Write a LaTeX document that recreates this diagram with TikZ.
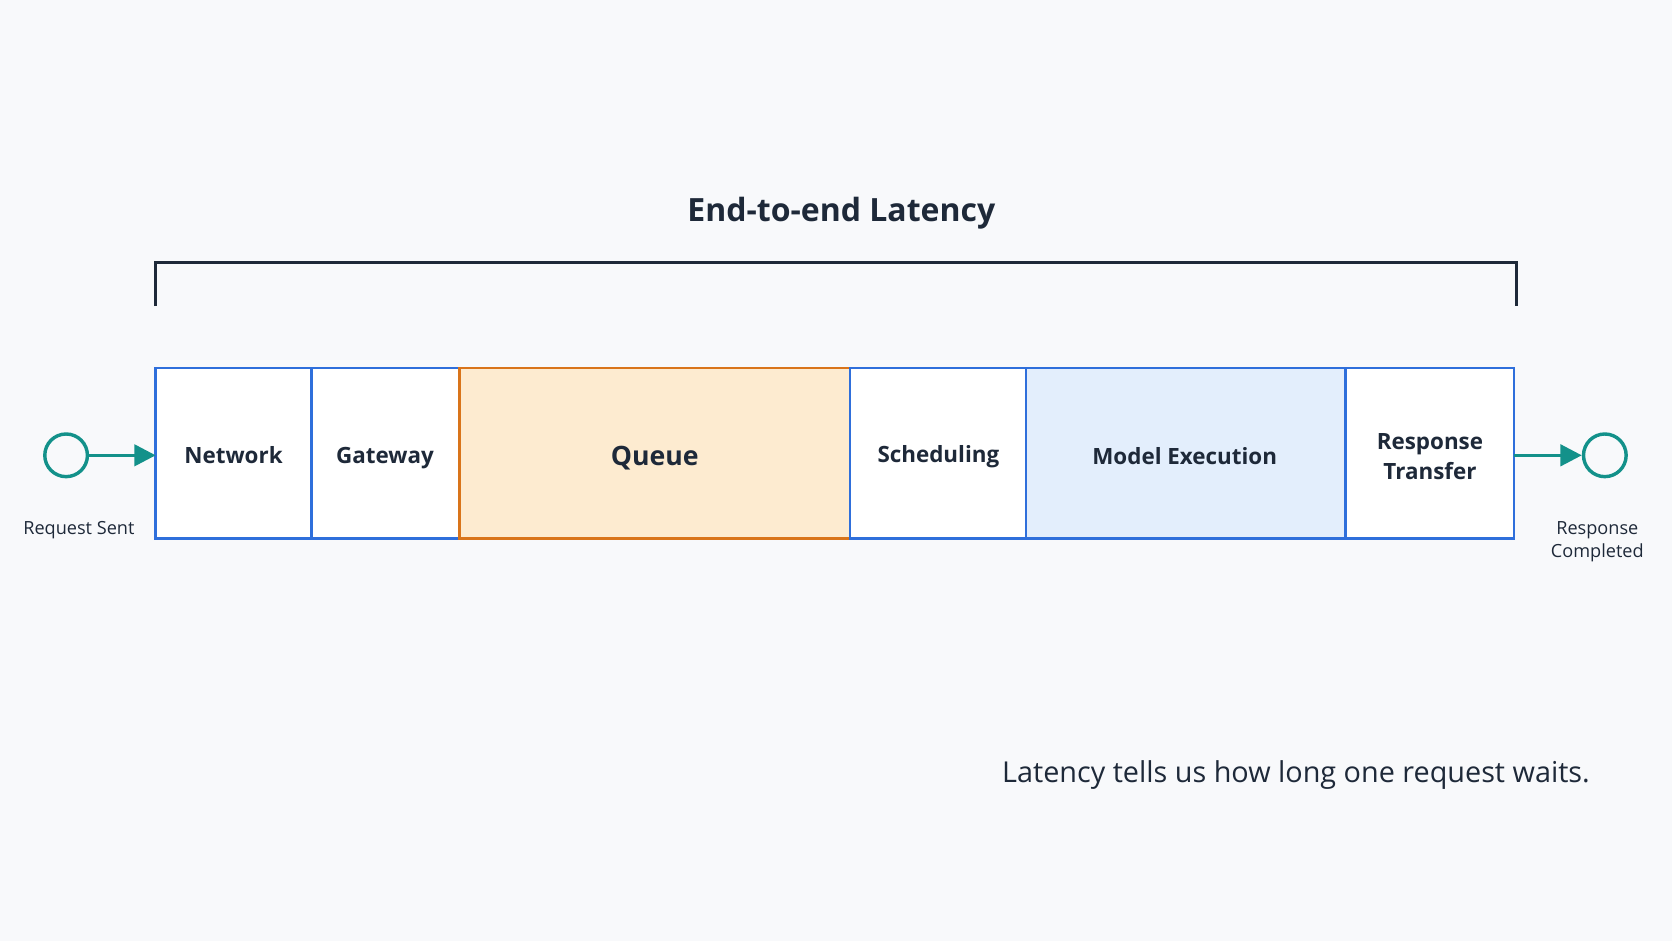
\documentclass[tikz,border=0pt]{standalone}
\usepackage{fontspec}
\setmainfont{Open Sans}
\usetikzlibrary{arrows.meta}
\definecolor{bg}{HTML}{F8F9FB}
\definecolor{bl}{HTML}{2F6FDB}
\definecolor{qf}{HTML}{FDEBD0}
\definecolor{qb}{HTML}{D9741A}
\definecolor{mf}{HTML}{E3EEFC}
\definecolor{teal}{HTML}{13918A}
\definecolor{ink}{HTML}{1E2939}
\begin{document}
\begin{tikzpicture}[x=0.5pt,y=-0.5pt,
  seg/.style={draw=bl,line width=1.2pt,fill=white},
  lab/.style={text=ink,font=\fontsize{10.5}{13}\selectfont\bfseries,align=center,anchor=base},
  small/.style={text=ink,font=\fontsize{8.5}{10.5}\selectfont,align=center},
  circ/.style={circle,draw=teal,line width=1.6pt,minimum size=20pt,inner sep=0pt},
  arr/.style={draw=teal,line width=1.6pt,-{Triangle[length=10pt,width=10pt]}}]
\fill[bg] (0,0) rectangle (1568,882);
\useasboundingbox (0,0) rectangle (1568,882);
\node[text=ink,font=\fontsize{15}{18}\selectfont\bfseries] (title) at (789,200) {End-to-end Latency};
\draw[ink,line width=1.4pt] (146,287) coordinate (bl1) -- (146,246) -- (1422,246) -- (1422,287) coordinate (br1);
\draw[seg] (146,345) rectangle (292,505); \node[lab] (net) at (219,435) {Network};
\draw[seg] (292,345) rectangle (431,505); \node[lab] (gw) at (361,435) {Gateway};
\draw[seg,fill=qf,draw=qb] (431,345) rectangle (797,505); \node[lab,font=\fontsize{12.5}{15}\selectfont\bfseries] (q) at (614,437) {Queue};
\draw[seg] (797,345) rectangle (962,505); \node[lab] (sch) at (880,434) {Scheduling};
\draw[seg,fill=mf] (962,345) rectangle (1262,505); \node[lab] (me) at (1111,436) {Model Execution};
\draw[seg] (1262,345) rectangle (1420,505); \node[lab,anchor=center,font=\fontsize{10.5}{14}\selectfont\bfseries] (rt) at (1341,428) {Response\\Transfer};
\node[circ] (c1) at (62,427) {};
\node[circ] (c2) at (1505,427) {};
\coordinate (in) at (146,427); \coordinate (out) at (1420,427);
\draw[arr] (c1) -- (in);
\draw[arr] (out) -- (c2);
\node[small] (rs) at (74,497) {Request Sent};
\node[small] (rc) at (1498,508) {Response\\Completed};
\node[text=ink,font=\fontsize{13.5}{16}\selectfont,anchor=east] (note) at (1498,727) {Latency tells us how long one request waits.};
\end{tikzpicture}
\end{document}
